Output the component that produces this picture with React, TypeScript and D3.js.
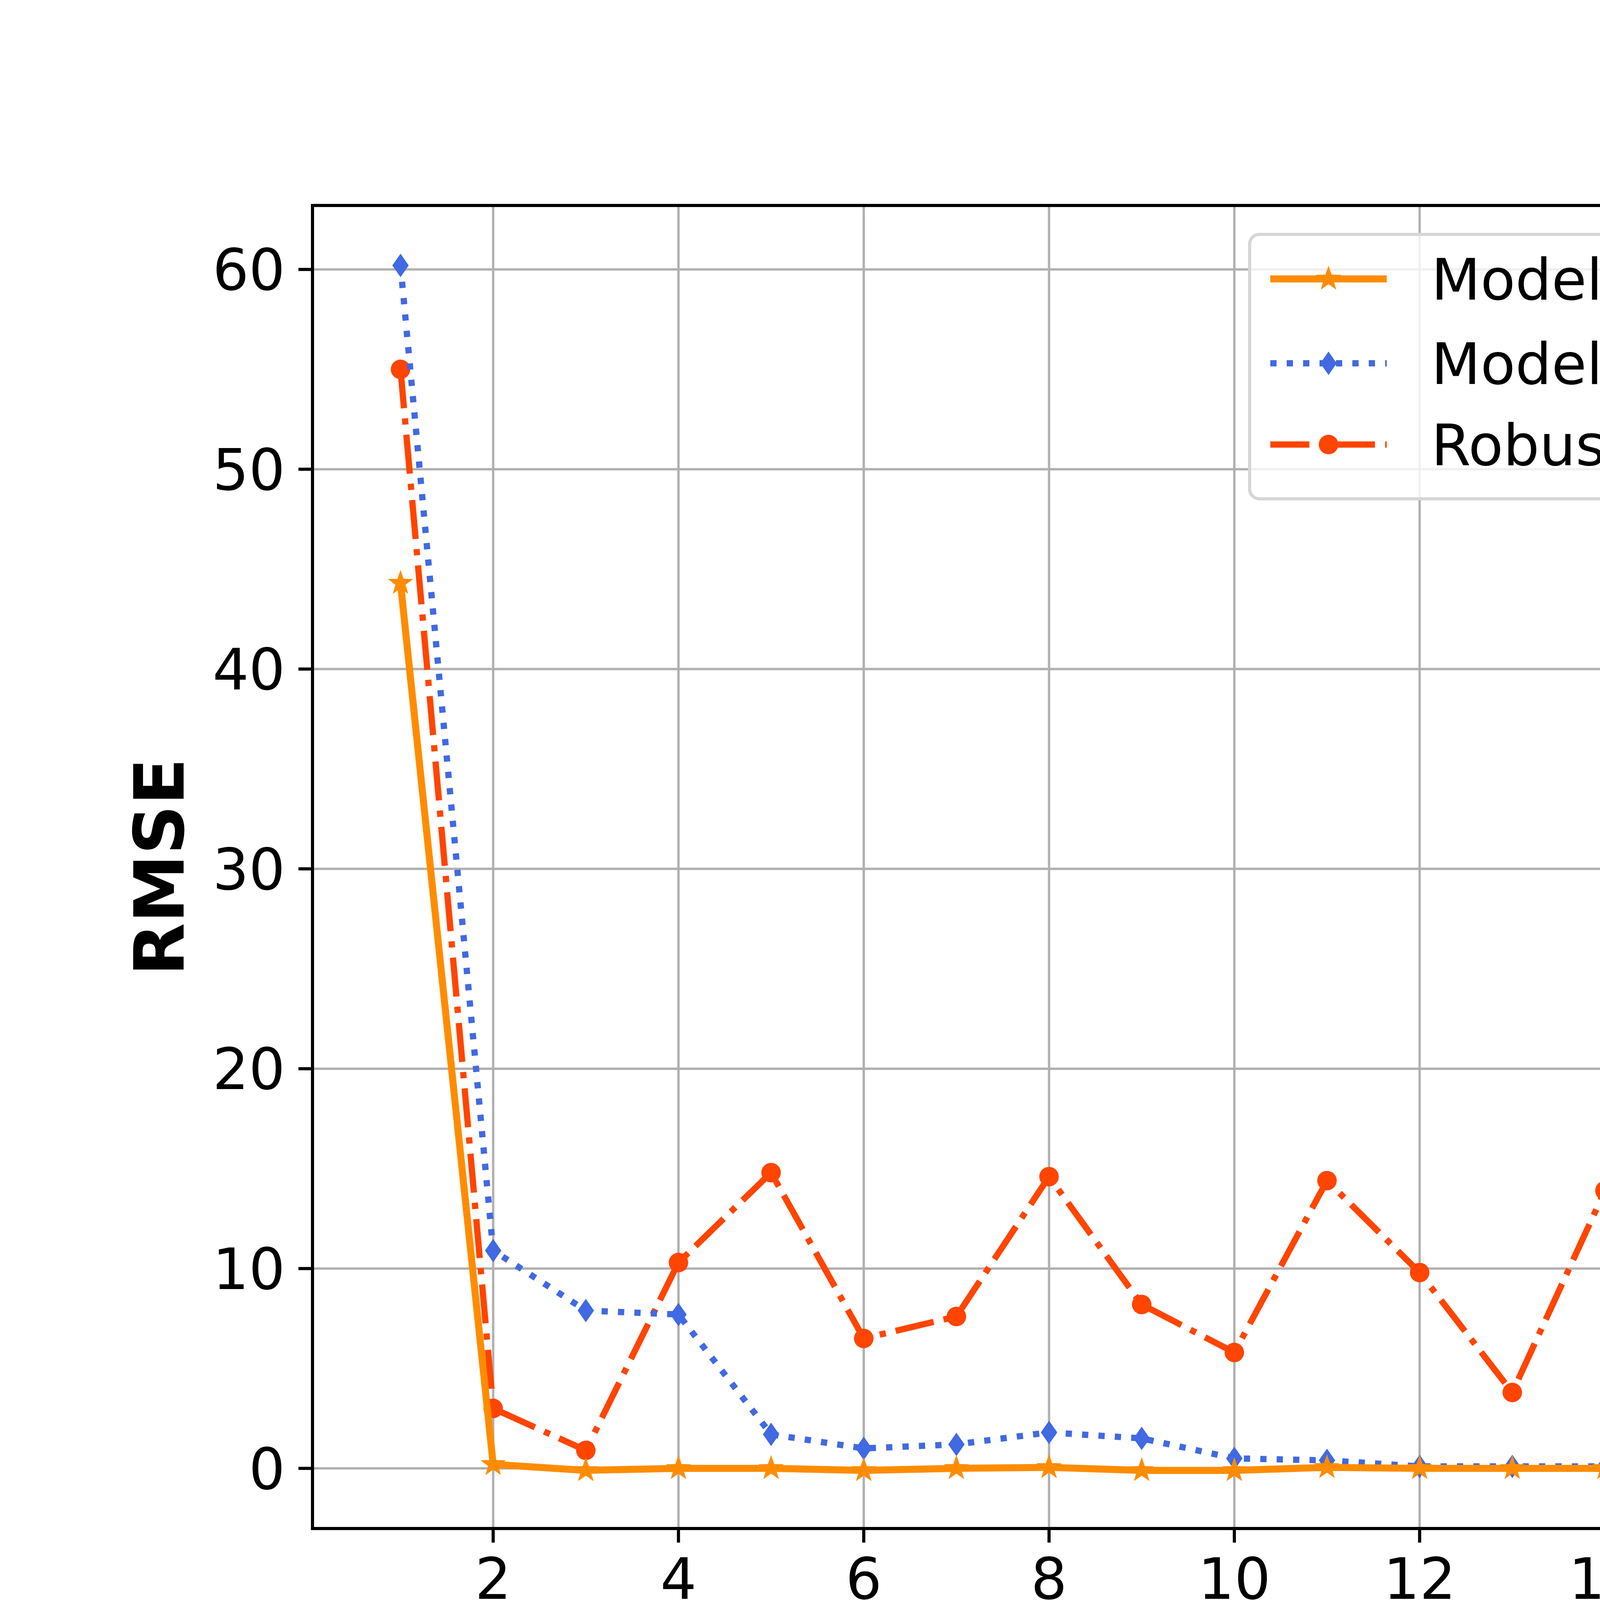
import * as d3 from "d3";
import React from "react";

const batches = d3.range(1, 21);
const modelBased = [44.3, 0.2, -0.1, 0, 0, -0.1, 0, 0.05, -0.1, -0.1, 0.05, 0, 0, 0, -0.05, 0, 0.05, 0.05, 0, 0];
const modelFree = [60.2, 10.9, 7.9, 7.7, 1.7, 1.0, 1.2, 1.8, 1.5, 0.5, 0.4, 0.1, 0.1, 0.1, 0.05, 0, 0.05, 0.05, -0.05, 0.05];
const robustPI = [55, 3, 0.9, 10.3, 14.8, 6.5, 7.6, 14.6, 8.2, 5.8, 14.4, 9.8, 3.8, 13.9, 11.2, 1.8, 13.1, 12.4, 0.7, 12.1];
const xTicks = [2, 4, 6, 8, 10, 12, 14, 16, 18, 20];
const yTicks = [0, 10, 20, 30, 40, 50, 60];
const seriesNames = ["Model-based 2D ILC", "Model-free adaptive 2D ILC", "Robust PI-based ILC"];

const W = 6400, H = 4400;
const L = 800, R = 5757, T = 526, B = 3913;
const font = "DejaVu Sans, sans-serif";

function star(cx: number, cy: number, r: number) {
    const pts: string[] = [];
    for (let i = 0; i < 10; i++) {
        const a = -Math.PI / 2 + i * Math.PI / 5;
        const rr = i % 2 === 0 ? r : r * 0.4;
        pts.push(`${cx + rr * Math.cos(a)},${cy + rr * Math.sin(a)}`);
    }
    return pts.join(" ");
}

const App = () => {
    const x = d3.scaleLinear().domain([0.05, 20.95]).range([L, R]);
    const y = d3.scaleLinear().domain([-3.01, 63.2]).range([B, T]);
    const line = d3.line<number>().x((_, i) => x(batches[i])).y(d => y(d));

    const series = [
        { name: seriesNames[0], data: modelBased, color: "#ff8c00", lw: 18, dash: "none", marker: "star" },
        { name: seriesNames[1], data: modelFree, color: "#4169e1", lw: 16, dash: "16 26", marker: "diamond" },
        { name: seriesNames[2], data: robustPI, color: "#ff4500", lw: 16, dash: "100 26 16 26", marker: "circle" },
    ];
    const drawOrder = [series[2], series[1], series[0]];

    const marker = (m: string, cx: number, cy: number, color: string, key: any) => {
        if (m === "star") return <polygon key={key} points={star(cx, cy, 34)} fill={color} />;
        if (m === "diamond") return <polygon key={key} points={`${cx},${cy - 30} ${cx + 21},${cy} ${cx},${cy + 30} ${cx - 21},${cy}`} fill={color} />;
        return <circle key={key} cx={cx} cy={cy} r={25} fill={color} />;
    };

    const legY = [714, 930, 1138];

    return (
        <svg width={W} height={H} style={{ display: "block", background: "#fff", position: "absolute", left: 0, top: 0 }}>
            <defs>
                <clipPath id="plot"><rect x={L} y={T} width={R - L} height={B - T} /></clipPath>
            </defs>
            {xTicks.map(t => <line key={"gx" + t} x1={x(t)} x2={x(t)} y1={T} y2={B} stroke="#b0b0b0" strokeWidth={6} />)}
            {yTicks.map(t => <line key={"gy" + t} x1={L} x2={R} y1={y(t)} y2={y(t)} stroke="#b0b0b0" strokeWidth={6} />)}
            <g clipPath="url(#plot)">
                {drawOrder.map(s => (
                    <g key={s.name}>
                        <path d={line(s.data) || ""} fill="none" stroke={s.color} strokeWidth={s.lw} strokeDasharray={s.dash} />
                        {s.data.map((v, i) => marker(s.marker, x(batches[i]), y(v), s.color, i))}
                    </g>
                ))}
            </g>
            <rect x={L} y={T} width={R - L} height={B - T} fill="none" stroke="#000" strokeWidth={8} />
            {xTicks.map(t => (
                <g key={"tx" + t}>
                    <line x1={x(t)} x2={x(t)} y1={B} y2={B + 36} stroke="#000" strokeWidth={8} />
                    <text x={x(t)} y={B + 180} textAnchor="middle" fontFamily={font} fontSize={146}>{t}</text>
                </g>
            ))}
            {yTicks.map(t => (
                <g key={"ty" + t}>
                    <line x1={L - 36} x2={L} y1={y(t)} y2={y(t)} stroke="#000" strokeWidth={8} />
                    <text x={L - 70} y={y(t)} dy="0.36em" textAnchor="end" fontFamily={font} fontSize={146}>{t}</text>
                </g>
            ))}
            <text x={(L + R) / 2} y={4300} textAnchor="middle" fontFamily={font} fontSize={176} fontWeight="bold">
                Batch: <tspan fontStyle="italic" fontWeight="normal">k</tspan>
            </text>
            <text transform={`translate(470,${(T + B) / 2}) rotate(-90)`} textAnchor="middle" fontFamily={font} fontSize={176} fontWeight="bold">RMSE</text>
            <rect x={3199} y={600} width={2484} height={677} rx={25} fill="#fff" fillOpacity={0.8} stroke="#d6d6d6" strokeWidth={8} />
            {series.map((s, i) => (
                <g key={"lg" + i}>
                    <line x1={3252} x2={3550} y1={legY[i]} y2={legY[i]} stroke={s.color} strokeWidth={s.lw} strokeDasharray={s.dash} />
                    {marker(s.marker, 3401, legY[i], s.color, "m")}
                    <text x={3664} y={legY[i]} dy="0.36em" fontFamily={font} fontSize={146}>{s.name}</text>
                </g>
            ))}
        </svg>
    );
};

export default App;
